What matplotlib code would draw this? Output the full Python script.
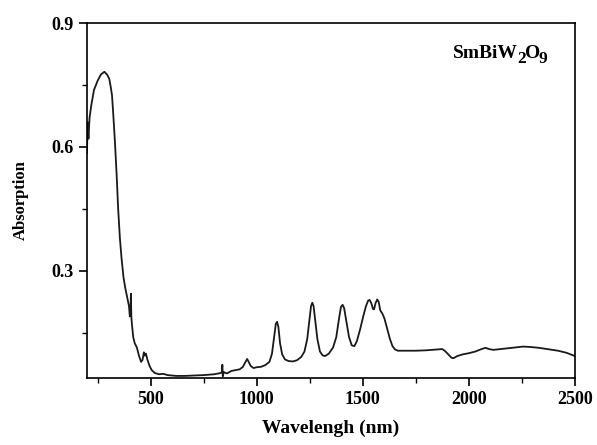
import matplotlib
matplotlib.use("Agg")
import matplotlib.pyplot as plt
from matplotlib.ticker import MultipleLocator

plt.rcParams['font.family'] = ['Liberation Serif', 'DejaVu Serif']
plt.rcParams['font.weight'] = 'bold'

# Absorption spectrum (wavelength in nm)
wavelength = [200, 203, 207, 212, 220, 233, 250, 265, 282, 295, 305, 312, 318, 325,
              332, 340, 347, 355, 363, 372, 380, 390, 398, 402, 405, 407,
              409, 412, 418, 425, 435, 445, 455, 462, 468, 473, 478, 485, 495, 505,
              520, 540, 560, 580, 620, 660, 700, 750, 800, 830, 836, 838, 840, 845,
              860, 880, 900, 920, 935, 945, 955, 962, 972, 985, 1000, 1020, 1040,
              1060, 1072, 1082, 1090, 1096, 1102, 1110, 1120, 1133, 1150, 1170, 1190,
              1210, 1225, 1238, 1248, 1256, 1262, 1268, 1276, 1286, 1298, 1310, 1322,
              1340, 1360, 1375, 1388, 1397, 1405, 1412, 1422, 1435, 1448, 1460, 1472,
              1488, 1502, 1515, 1525, 1532, 1540, 1548, 1553, 1560, 1568, 1575, 1582,
              1592, 1602, 1615, 1628, 1640, 1652, 1665, 1700, 1750, 1800, 1850, 1875,
              1890, 1905, 1918, 1928, 1945, 1970, 2000, 2030, 2060, 2078, 2095, 2115,
              2150, 2200, 2256, 2290, 2330, 2380, 2420, 2460, 2485, 2500]
absorption = [0.585, 0.66, 0.62, 0.67, 0.70, 0.738, 0.76, 0.775, 0.782, 0.775, 0.765,
              0.745, 0.725, 0.67, 0.61, 0.53, 0.45, 0.38, 0.33, 0.285, 0.26, 0.235,
              0.215, 0.19, 0.20, 0.245, 0.19, 0.17, 0.14, 0.125, 0.115, 0.095, 0.08,
              0.085, 0.103, 0.095, 0.10, 0.085, 0.07, 0.06, 0.053, 0.050, 0.051, 0.048,
              0.046, 0.046, 0.047, 0.048, 0.050, 0.053, 0.055, 0.073, 0.045, 0.055,
              0.052, 0.058, 0.060, 0.062, 0.068, 0.078, 0.087, 0.080, 0.070, 0.065,
              0.067, 0.068, 0.072, 0.080, 0.100, 0.140, 0.172, 0.177, 0.165, 0.125,
              0.098, 0.086, 0.082, 0.081, 0.084, 0.092, 0.105, 0.135, 0.180, 0.215,
              0.223, 0.215, 0.180, 0.135, 0.105, 0.096, 0.094, 0.100, 0.115, 0.140,
              0.185, 0.213, 0.218, 0.210, 0.180, 0.140, 0.120, 0.118, 0.130, 0.160,
              0.190, 0.215, 0.228, 0.230, 0.222, 0.208, 0.207, 0.222, 0.231, 0.225,
              0.205, 0.197, 0.185, 0.160, 0.135, 0.118, 0.110, 0.107, 0.107, 0.107,
              0.108, 0.110, 0.111, 0.105, 0.097, 0.090, 0.089, 0.094, 0.098, 0.101,
              0.105, 0.111, 0.114, 0.111, 0.109, 0.111, 0.114, 0.117, 0.116, 0.114,
              0.110, 0.107, 0.102, 0.097, 0.094]

# compound name, split so the subscripts can be drawn almost full size
formula = [('SmBiW', 0), ('2', -5), ('O', 0), ('9', -5)]

W, H = 597, 445
fig = plt.figure(figsize=(W / 100, H / 100), dpi=100)
ax = fig.add_axes([0.1457, 0.1506, 0.8174, 0.7977])

ax.plot(wavelength, absorption, color='#1a1a1a', lw=1.3)

ax.set_xlim(200, 2500)
ax.set_ylim(0.041, 0.9)
ax.xaxis.set_major_locator(MultipleLocator(500))
ax.xaxis.set_minor_locator(MultipleLocator(250))
ax.set_yticks([0.3, 0.6, 0.9])
ax.set_yticks([0.15, 0.45, 0.75], minor=True)
ax.tick_params(which='major', direction='out', length=6, width=1.2, labelsize=13)
ax.tick_params(which='minor', direction='out', length=3.5, width=1.0)
for s in ax.spines.values():
    s.set_linewidth(1.2)

ax.set_xlabel('Wavelengh (nm)', fontsize=14, fontweight='bold', labelpad=8)
ax.set_ylabel('Absorption', fontsize=12, fontweight='bold', labelpad=16)

# place the pieces one after another, in pixels
fig.canvas.draw()
renderer = fig.canvas.get_renderer()
x, base = 453, H - 58
for piece, dy in formula:
    t = fig.text(x / W, (base + dy) / H, piece, fontsize=14 if dy == 0 else 12.5,
                 ha='left', va='baseline')
    x += t.get_window_extent(renderer).width - 1

fig.savefig('out.png', dpi=100)
